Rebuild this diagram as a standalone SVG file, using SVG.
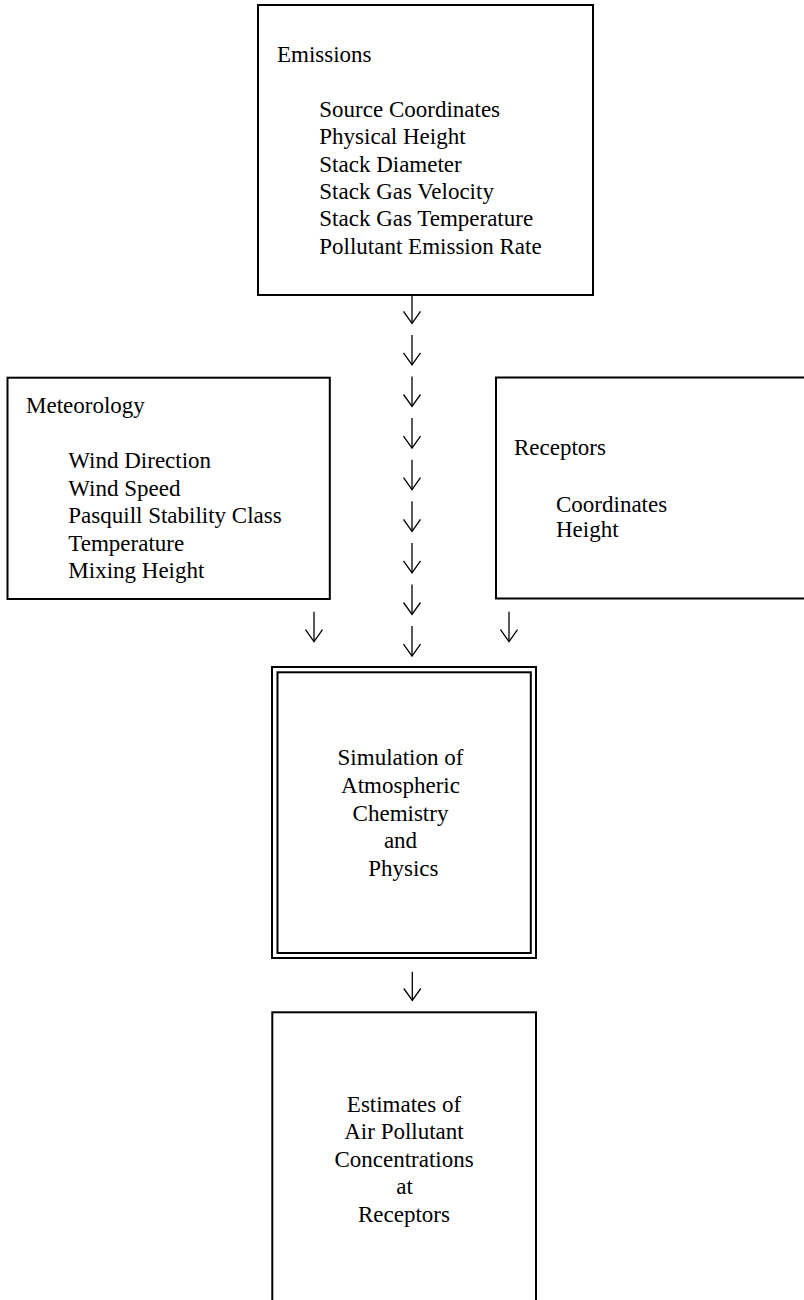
<svg xmlns="http://www.w3.org/2000/svg" width="804" height="1300" viewBox="0 0 804 1300">
<style>
.box{fill:#fff;stroke:#000;stroke-width:2}
.arr{fill:none;stroke:#000;stroke-width:1.3}
text{font-family:"Liberation Serif","Times New Roman",serif;font-size:23px;fill:#000}
.c{text-anchor:middle}
</style>
<defs>
<marker id="ah" markerUnits="userSpaceOnUse" orient="auto" refX="0" refY="0" markerWidth="30" markerHeight="30" viewBox="-15 -15 30 30" overflow="visible">
<path d="M-12,-8.5 L0,0 L-12,8.5" fill="none" stroke="#000" stroke-width="1.3"/>
</marker>
</defs>
<rect width="804" height="1300" fill="#fff"/>
<g id="emissions">
<rect class="box" x="258" y="5" width="335" height="290"/>
<text x="277" y="61.7">Emissions</text>
<text x="319.3" y="116.7">Source Coordinates</text>
<text x="319.3" y="144.1">Physical Height</text>
<text x="319.3" y="171.5">Stack Diameter</text>
<text x="319.3" y="198.9">Stack Gas Velocity</text>
<text x="319.3" y="226.3">Stack Gas Temperature</text>
<text x="319.3" y="253.7">Pollutant Emission Rate</text>
</g>
<g id="meteorology">
<rect class="box" x="7.5" y="377.7" width="322.3" height="221.3"/>
<text x="26" y="413.3">Meteorology</text>
<text x="68.3" y="468.3">Wind Direction</text>
<text x="68.3" y="495.8">Wind Speed</text>
<text x="68.3" y="523.3">Pasquill Stability Class</text>
<text x="68.3" y="550.8">Temperature</text>
<text x="68.3" y="578.3">Mixing Height</text>
</g>
<g id="receptors">
<rect class="box" x="496" y="377.5" width="320" height="221"/>
<text x="514" y="455">Receptors</text>
<text x="556" y="511.7">Coordinates</text>
<text x="556" y="537">Height</text>
</g>
<g id="simulation">
<rect class="box" x="272" y="667" width="264" height="291"/>
<rect class="box" x="277.5" y="672.3" width="253.3" height="280.7"/>
<text class="c" x="400.5" y="765">Simulation of</text>
<text class="c" x="400.5" y="792.7">Atmospheric</text>
<text class="c" x="400.5" y="820.5">Chemistry</text>
<text class="c" x="400.5" y="848.3">and</text>
<text class="c" x="403.3" y="876">Physics</text>
</g>
<g id="estimates">
<rect class="box" x="272.3" y="1012.3" width="263.7" height="300"/>
<text class="c" x="404" y="1111.7">Estimates of</text>
<text class="c" x="404" y="1139.2">Air Pollutant</text>
<text class="c" x="404" y="1166.7">Concentrations</text>
<text class="c" x="404.5" y="1194.2">at</text>
<text class="c" x="404" y="1221.7">Receptors</text>
</g>
<g id="connectors">
<line class="arr" x1="412" y1="295" x2="412" y2="323.3" marker-end="url(#ah)"/>
<line class="arr" x1="412" y1="335" x2="412" y2="364.9" marker-end="url(#ah)"/>
<line class="arr" x1="412" y1="376.5" x2="412" y2="406.5" marker-end="url(#ah)"/>
<line class="arr" x1="412" y1="418" x2="412" y2="448.1" marker-end="url(#ah)"/>
<line class="arr" x1="412" y1="459.7" x2="412" y2="489.7" marker-end="url(#ah)"/>
<line class="arr" x1="412" y1="501.3" x2="412" y2="531.3" marker-end="url(#ah)"/>
<line class="arr" x1="412" y1="542.9" x2="412" y2="572.9" marker-end="url(#ah)"/>
<line class="arr" x1="412" y1="584.5" x2="412" y2="614.5" marker-end="url(#ah)"/>
<line class="arr" x1="412" y1="626.1" x2="412" y2="656.1" marker-end="url(#ah)"/>
<line class="arr" x1="314" y1="611.7" x2="314" y2="641.7" marker-end="url(#ah)"/>
<line class="arr" x1="509" y1="611.7" x2="509" y2="641.7" marker-end="url(#ah)"/>
<line class="arr" x1="412.3" y1="971.7" x2="412.3" y2="1000.5" marker-end="url(#ah)"/>
</g>
</svg>
